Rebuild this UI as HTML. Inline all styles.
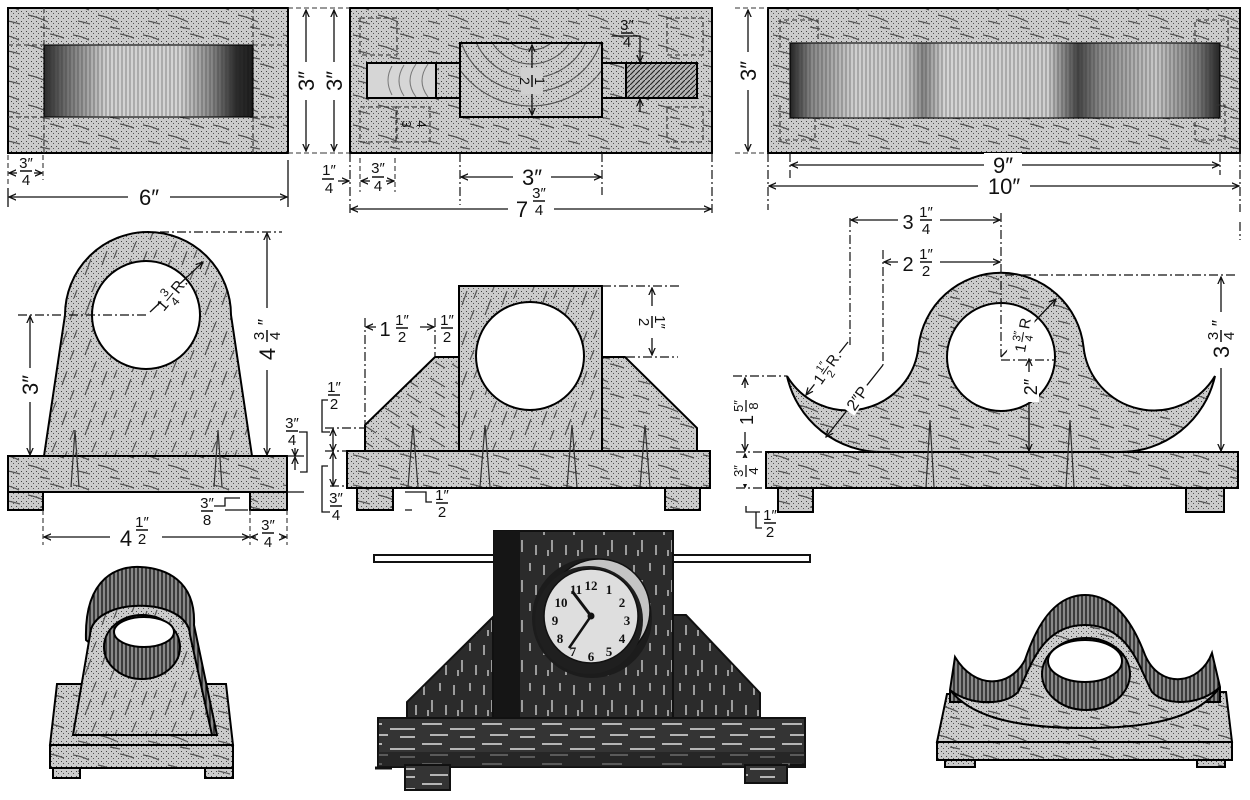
<!DOCTYPE html>
<html><head><meta charset="utf-8"><style>
html,body{margin:0;padding:0;background:#fff}
svg{display:block}
text{font-family:"Liberation Sans",sans-serif;fill:#111}
.d{stroke:#111;stroke-width:1.3;fill:none}
.dd{stroke:#111;stroke-width:1.2;fill:none;stroke-dasharray:9 3 2 3}
.hd{stroke:#333;stroke-width:1.1;fill:none;stroke-dasharray:5 3}
.o{stroke:#000;stroke-width:2}
.w{fill:#fff}
</style></head><body>
<svg width="1250" height="800" viewBox="0 0 1250 800" xmlns="http://www.w3.org/2000/svg">
<defs>
<pattern id="stip" width="5" height="5" patternUnits="userSpaceOnUse">
<rect width="5" height="5" fill="#cbcbcb"/><rect x="1" y="1" width="1" height="1" fill="#444"/><rect x="3" y="3" width="1" height="1" fill="#555"/>
</pattern>
<pattern id="gH" width="70" height="30" patternUnits="userSpaceOnUse">
<rect width="70" height="30" fill="url(#stip)"/>
<path d="M3 5 q8 1 16 5 M28 15 q10 2 20 7 M50 4 q6 1 14 4 M8 21 q5 1 12 3 M40 27 l10 2" stroke="#555" stroke-width="1.3" fill="none"/>
</pattern>
<pattern id="gD" width="40" height="40" patternUnits="userSpaceOnUse">
<rect width="40" height="40" fill="url(#stip)"/>
<path d="M5 35 l6 -16 M22 25 l5 -14 M30 40 l4 -10 M12 12 l4 -10 M34 18 l3 -8" stroke="#555" stroke-width="1.2" fill="none"/>
</pattern>
<pattern id="gB" width="45" height="30" patternUnits="userSpaceOnUse">
<rect width="45" height="30" fill="url(#stip)"/>
<path d="M2 4 l14 9 M25 18 l15 9 M30 2 l10 6 M5 22 l8 5" stroke="#555" stroke-width="1.2" fill="none"/>
</pattern>
<pattern id="dV" width="30" height="40" patternUnits="userSpaceOnUse">
<rect width="30" height="40" fill="#2b2b2b"/>
<path d="M4 5 v10 M12 20 v12 M20 3 v8 M26 25 v10 M8 30 v6" stroke="#d8d8d8" stroke-width="1.3"/>
</pattern>
<pattern id="dH" width="60" height="20" patternUnits="userSpaceOnUse">
<rect width="60" height="20" fill="#343434"/>
<path d="M2 4 h20 M30 9 h25 M10 15 h18 M40 17 h15" stroke="#e0e0e0" stroke-width="1.6"/>
</pattern>
<pattern id="vl" width="4" height="10" patternUnits="userSpaceOnUse">
<line x1="2" y1="0" x2="2" y2="10" stroke="#333" stroke-width="0.9"/>
</pattern>
<pattern id="vlD" width="4" height="10" patternUnits="userSpaceOnUse">
<rect width="4" height="10" fill="#8a8a8a"/><line x1="2" y1="0" x2="2" y2="10" stroke="#111" stroke-width="1.3"/>
</pattern>
<pattern id="hatch" width="5" height="5" patternUnits="userSpaceOnUse">
<rect width="5" height="5" fill="#b5b5b5"/><path d="M0 5 L5 0" stroke="#222" stroke-width="1.1"/>
</pattern>
<linearGradient id="gL" x1="0" x2="1" y1="0" y2="0">
<stop offset="0" stop-color="#2a2a2a"/><stop offset=".12" stop-color="#777"/><stop offset=".3" stop-color="#d2d2d2"/><stop offset=".65" stop-color="#d5d5d5"/><stop offset=".8" stop-color="#888"/><stop offset=".92" stop-color="#2a2a2a"/><stop offset="1" stop-color="#1a1a1a"/>
</linearGradient>
<linearGradient id="gR" x1="0" x2="1" y1="0" y2="0">
<stop offset="0" stop-color="#222"/><stop offset=".05" stop-color="#888"/><stop offset=".15" stop-color="#d0d0d0"/><stop offset=".27" stop-color="#ccc"/><stop offset=".31" stop-color="#888"/><stop offset=".36" stop-color="#d5d5d5"/><stop offset=".6" stop-color="#d0d0d0"/><stop offset=".67" stop-color="#444"/><stop offset=".72" stop-color="#888"/><stop offset=".85" stop-color="#c8c8c8"/><stop offset=".95" stop-color="#777"/><stop offset="1" stop-color="#222"/>
</linearGradient>
<marker id="a" viewBox="0 0 10 10" refX="9" refY="5" markerWidth="8" markerHeight="8" orient="auto-start-reverse" markerUnits="userSpaceOnUse">
<path d="M0 1 L9 5 L0 9" fill="none" stroke="#111" stroke-width="1.6"/>
</marker>
</defs>
<rect width="1250" height="800" fill="#fff"/>

<!-- ============ TOP LEFT ============ -->
<rect x="8" y="8" width="280" height="145" fill="url(#gH)" class="o"/>
<rect x="44" y="45" width="209" height="72" fill="url(#gL)"/>
<rect x="44" y="45" width="209" height="72" fill="url(#vl)" opacity=".55" stroke="#000" stroke-width="2"/>
<path class="hd" d="M8 45 H44 M253 45 H288 M8 117 H44 M253 117 H288 M44 8 V45 M253 8 V45 M44 117 V153 M253 117 V153"/>
<path class="hd" d="M288 8 H322 M288 153 H322"/>
<line class="d" x1="306" y1="10" x2="306" y2="151" marker-start="url(#a)" marker-end="url(#a)"/>
<rect x="296" y="62" width="20" height="38" class="w"/>
<text transform="translate(314,81) rotate(-90)" font-size="22" text-anchor="middle">3″</text>
<path class="hd" d="M8 155 V185 M43 155 V180"/>
<line class="d" x1="17" y1="173" x2="9" y2="173" marker-end="url(#a)"/>
<line class="d" x1="34" y1="173" x2="42" y2="173" marker-end="url(#a)"/>
<text x="26" y="168" font-size="15" text-anchor="middle">3″</text><line x1="20" y1="171" x2="32" y2="171" stroke="#111" stroke-width="1.5"/><text x="26" y="185" font-size="15" text-anchor="middle">4</text>
<path class="d" d="M8 188 V207 M288 160 V207"/>
<line class="d" x1="9" y1="197" x2="287" y2="197" marker-start="url(#a)" marker-end="url(#a)"/>
<rect x="128" y="185" width="42" height="24" class="w"/>
<text x="149" y="205" font-size="22" text-anchor="middle">6″</text>

<!-- ============ TOP MIDDLE ============ -->
<rect x="350" y="8" width="362" height="145" fill="url(#gH)" class="o"/>
<g class="hd">
<rect x="360" y="18" width="37" height="37"/><rect x="360" y="107" width="37" height="35"/><rect x="396" y="107" width="34" height="35"/>
<rect x="667" y="18" width="36" height="37"/><rect x="667" y="107" width="36" height="35"/>
</g>
<text transform="translate(402,124) rotate(90)" font-size="13" text-anchor="middle">3</text>
<text transform="translate(417,124) rotate(90)" font-size="13" text-anchor="middle">4</text>
<rect x="367" y="63" width="69" height="35" fill="#d6d6d6" class="o"/>
<path d="M392 66 q-8 14 0 29 M404 65 q-10 16 0 31 M416 64 q-12 17 0 33 M428 64 q-12 17 0 33" stroke="#777" stroke-width="1" fill="none"/>
<rect x="436" y="63" width="24" height="35" fill="url(#gH)" class="o"/>
<rect x="602" y="63" width="24" height="35" fill="url(#gH)" class="o"/>
<rect x="626" y="63" width="71" height="35" fill="url(#hatch)" class="o"/>
<rect x="460" y="43" width="142" height="74" fill="url(#stip)" class="o"/>
<clipPath id="cb"><rect x="461" y="44" width="140" height="72"/></clipPath>
<g clip-path="url(#cb)" stroke="#555" stroke-width="1.1" fill="none">
<circle cx="531" cy="18" r="32"/><circle cx="531" cy="18" r="46"/><circle cx="531" cy="18" r="60"/><circle cx="531" cy="18" r="74"/><circle cx="531" cy="18" r="88"/>
</g>
<line class="d" x1="532" y1="45" x2="532" y2="115" marker-start="url(#a)" marker-end="url(#a)"/>
<rect x="521" y="68" width="22" height="26" fill="#d0d0d0"/>
<g transform="translate(532,81) rotate(90)">
<text x="0" y="-3" font-size="14" text-anchor="middle">1</text><line x1="-6" y1="0" x2="6" y2="0" stroke="#111" stroke-width="1.5"/><text x="0" y="12" font-size="14" text-anchor="middle">2</text>
</g>
<text x="627" y="30" font-size="15" text-anchor="middle">3″</text><line x1="621" y1="33" x2="633" y2="33" stroke="#111" stroke-width="1.5"/><text x="627" y="47" font-size="15" text-anchor="middle">4</text>
<path class="d" d="M612 36 H640 V52"/><line class="d" x1="640" y1="50" x2="640" y2="62" marker-end="url(#a)"/>
<line class="d" x1="640" y1="112" x2="640" y2="99" marker-end="url(#a)"/>
<path class="dd" d="M350 153 V215 M712 153 V215 M460 153 V205 M602 153 V195"/>
<path class="hd" d="M360 158 V192 M395 158 V192"/>
<text x="329" y="175" font-size="15" text-anchor="middle">1″</text><line x1="322" y1="179" x2="334" y2="179" stroke="#111" stroke-width="1.5"/><text x="329" y="193" font-size="15" text-anchor="middle">4</text>
<line class="d" x1="338" y1="181" x2="349" y2="181" marker-end="url(#a)"/>
<text x="378" y="173" font-size="15" text-anchor="middle">3″</text><line x1="372" y1="177" x2="384" y2="177" stroke="#111" stroke-width="1.5"/><text x="378" y="191" font-size="15" text-anchor="middle">4</text>
<line class="d" x1="370" y1="181" x2="361" y2="181" marker-end="url(#a)"/>
<line class="d" x1="386" y1="181" x2="394" y2="181" marker-end="url(#a)"/>
<line class="d" x1="461" y1="177" x2="601" y2="177" marker-start="url(#a)" marker-end="url(#a)"/>
<rect x="513" y="165" width="38" height="24" class="w"/>
<text x="532" y="185" font-size="22" text-anchor="middle">3″</text>
<line class="d" x1="351" y1="209" x2="711" y2="209" marker-start="url(#a)" marker-end="url(#a)"/>
<rect x="508" y="188" width="46" height="32" class="w"/>
<text x="522" y="217" font-size="22" text-anchor="middle">7</text>
<text x="539" y="198" font-size="15" text-anchor="middle">3″</text><line x1="533" y1="201" x2="545" y2="201" stroke="#111" stroke-width="1.5"/><text x="539" y="215" font-size="15" text-anchor="middle">4</text>
<path class="hd" d="M322 8 H350 M322 153 H350"/>
<line class="d" x1="334" y1="10" x2="334" y2="151" marker-start="url(#a)" marker-end="url(#a)"/>
<rect x="324" y="62" width="20" height="38" class="w"/>
<text transform="translate(342,81) rotate(-90)" font-size="22" text-anchor="middle">3″</text>

<!-- ============ TOP RIGHT ============ -->
<rect x="768" y="8" width="472" height="145" fill="url(#gH)" class="o"/>
<rect x="790" y="43" width="430" height="75" fill="url(#gR)"/>
<rect x="790" y="43" width="430" height="75" fill="url(#vl)" opacity=".55" stroke="#000" stroke-width="2"/>
<path class="hd" d="M780 48 V20 H818 V43 M780 105 V140 H815 V118 M1195 43 V20 H1228 V48 M1215 105 H1225 V140 H1195 V118"/>
<path class="hd" d="M735 8 H768 M735 153 H768"/>
<line class="d" x1="748" y1="10" x2="748" y2="151" marker-start="url(#a)" marker-end="url(#a)"/>
<rect x="738" y="52" width="20" height="38" class="w"/>
<text transform="translate(756,71) rotate(-90)" font-size="22" text-anchor="middle">3″</text>
<path class="dd" d="M790 153 V178 M1220 153 V175 M768 153 V210 M1240 153 V212 M1240 222 V240"/>
<line class="d" x1="791" y1="165" x2="1219" y2="165" marker-start="url(#a)" marker-end="url(#a)"/>
<rect x="984" y="153" width="38" height="24" class="w"/>
<text x="1003" y="173" font-size="22" text-anchor="middle">9″</text>
<line class="d" x1="769" y1="186" x2="1239" y2="186" marker-start="url(#a)" marker-end="url(#a)"/>
<rect x="978" y="174" width="52" height="24" class="w"/>
<text x="1004" y="194" font-size="22" text-anchor="middle">10″</text>

<!-- ============ MIDDLE LEFT ============ -->
<path d="M44 456 L65 315 A83 83 0 0 1 231 315 L252 456 Z" fill="url(#gD)" class="o"/>
<circle cx="146" cy="315" r="54" fill="#fff" class="o"/>
<rect x="8" y="456" width="279" height="36" fill="url(#gH)" class="o"/>
<rect x="8" y="492" width="35" height="18" fill="url(#gH)" class="o"/>
<rect x="250" y="492" width="37" height="18" fill="url(#gH)" class="o"/>
<path d="M71 487 L75 430 L79 487 M214 487 L218 430 L222 487" stroke="#333" stroke-width="1.2" fill="none"/>
<path class="dd" d="M18 315 H146 M160 232 H282"/>
<line class="d" x1="30" y1="316" x2="30" y2="455" marker-start="url(#a)" marker-end="url(#a)"/>
<rect x="20" y="368" width="22" height="34" class="w"/>
<text transform="translate(38,385) rotate(-90)" font-size="22" text-anchor="middle">3″</text>
<line class="d" x1="267" y1="233" x2="267" y2="455" marker-start="url(#a)" marker-end="url(#a)"/>
<rect x="256" y="308" width="24" height="62" class="w"/>
<g transform="translate(267,338) rotate(-90)">
<text x="-16" y="8" font-size="22" text-anchor="middle">4</text>
<text x="2" y="-3" font-size="15" text-anchor="middle">3</text><line x1="-4" y1="0" x2="8" y2="0" stroke="#111" stroke-width="1.5"/><text x="2" y="13" font-size="15" text-anchor="middle">4</text>
<text x="16" y="4" font-size="18" text-anchor="middle">″</text>
</g>
<line class="d" x1="150" y1="312" x2="203" y2="262" marker-end="url(#a)"/>
<rect x="158" y="280" width="26" height="26" fill="#fff" transform="rotate(-45 171 293)"/>
<g transform="translate(171,294) rotate(-50)">
<text x="-14" y="6" font-size="16" text-anchor="middle">1</text>
<text x="-3" y="-2" font-size="12" text-anchor="middle">3</text><line x1="-8" y1="1" x2="2" y2="1" stroke="#111"/><text x="-3" y="12" font-size="12" text-anchor="middle">4</text>
<text x="12" y="6" font-size="16" text-anchor="middle">R.</text>
</g>
<text x="292" y="428" font-size="15" text-anchor="middle">3″</text><line x1="286" y1="431" x2="298" y2="431" stroke="#111" stroke-width="1.5"/><text x="292" y="445" font-size="15" text-anchor="middle">4</text>
<path class="d" d="M299 432 H307 V472 H300"/>
<path class="d" d="M287 456 H304 M287 492 H304"/>
<line class="d" x1="295" y1="448" x2="295" y2="456" marker-end="url(#a)"/>
<line class="d" x1="295" y1="470" x2="295" y2="457" marker-end="url(#a)"/>
<text x="207" y="508" font-size="15" text-anchor="middle">3″</text><line x1="201" y1="511" x2="213" y2="511" stroke="#111" stroke-width="1.5"/><text x="207" y="525" font-size="15" text-anchor="middle">8</text>
<path class="d" d="M214 506 H225 V498 H240 M225 510 H248"/>
<path class="hd" d="M43 510 V545 M250 510 V545 M287 510 V545"/>
<line class="d" x1="44" y1="537" x2="249" y2="537" marker-start="url(#a)" marker-end="url(#a)"/>
<rect x="110" y="520" width="52" height="28" class="w"/>
<text x="126" y="546" font-size="22" text-anchor="middle">4</text>
<text x="142" y="527" font-size="15" text-anchor="middle">1″</text><line x1="136" y1="530" x2="148" y2="530" stroke="#111" stroke-width="1.5"/><text x="142" y="544" font-size="15" text-anchor="middle">2</text>
<line class="d" x1="256" y1="537" x2="251" y2="537" marker-end="url(#a)"/>
<line class="d" x1="281" y1="537" x2="286" y2="537" marker-end="url(#a)"/>
<text x="268" y="530" font-size="15" text-anchor="middle">3″</text><line x1="262" y1="533" x2="274" y2="533" stroke="#111" stroke-width="1.5"/><text x="268" y="547" font-size="15" text-anchor="middle">4</text>

<!-- ============ MIDDLE CENTER ============ -->
<path d="M365 452 L365 425 L435 357 L459 357 L459 452 Z" fill="url(#gB)" class="o"/>
<path d="M602 357 L625 357 L697 428 L697 452 L602 452 Z" fill="url(#gH)" class="o"/>
<rect x="459" y="286" width="143" height="166" fill="url(#gD)" class="o"/>
<circle cx="530" cy="356" r="54" fill="#fff" class="o"/>
<rect x="347" y="451" width="363" height="37" fill="url(#gH)" class="o"/>
<rect x="357" y="488" width="36" height="22" fill="url(#gH)" class="o"/>
<rect x="665" y="488" width="35" height="22" fill="url(#gH)" class="o"/>
<path d="M408 487 L413 425 L418 487 M480 487 L485 425 L490 487 M567 487 L572 425 L577 487 M640 487 L645 425 L650 487" stroke="#333" stroke-width="1.2" fill="none"/>
<path class="dd" d="M365 318 V425 M435 318 V357"/>
<line class="d" x1="366" y1="327" x2="434" y2="327" marker-start="url(#a)" marker-end="url(#a)"/>
<rect x="376" y="312" width="44" height="32" class="w"/>
<text x="385" y="336" font-size="20" text-anchor="middle">1</text>
<text x="402" y="325" font-size="15" text-anchor="middle">1″</text><line x1="396" y1="328" x2="408" y2="328" stroke="#111" stroke-width="1.5"/><text x="402" y="342" font-size="15" text-anchor="middle">2</text>
<text x="447" y="325" font-size="15" text-anchor="middle">1″</text><line x1="441" y1="328" x2="453" y2="328" stroke="#111" stroke-width="1.5"/><text x="447" y="342" font-size="15" text-anchor="middle">2</text>
<path class="dd" d="M602 286 H682 M626 357 H678"/>
<line class="d" x1="652" y1="288" x2="652" y2="355" marker-start="url(#a)" marker-end="url(#a)"/>
<rect x="640" y="306" width="24" height="32" class="w"/>
<g transform="translate(652,322) rotate(90)">
<text x="0" y="-3" font-size="15" text-anchor="middle">1″</text><line x1="-6" y1="0" x2="6" y2="0" stroke="#111" stroke-width="1.5"/><text x="0" y="13" font-size="15" text-anchor="middle">2</text>
</g>
<text x="334" y="392" font-size="15" text-anchor="middle">1″</text><line x1="328" y1="395" x2="340" y2="395" stroke="#111" stroke-width="1.5"/><text x="334" y="409" font-size="15" text-anchor="middle">2</text>
<path class="d" d="M328 400 H322 V432 H330"/>
<path class="dd" d="M325 428 H365 M325 451 H347 M330 486 H347"/>
<line class="d" x1="333" y1="440" x2="333" y2="429" marker-end="url(#a)"/>
<line class="d" x1="333" y1="440" x2="333" y2="451" marker-end="url(#a)"/>
<line class="d" x1="333" y1="452" x2="333" y2="486" marker-start="url(#a)" marker-end="url(#a)"/>
<path class="d" d="M328 466 H322 V512 H330"/>
<text x="336" y="503" font-size="15" text-anchor="middle">3″</text><line x1="330" y1="506" x2="342" y2="506" stroke="#111" stroke-width="1.5"/><text x="336" y="520" font-size="15" text-anchor="middle">4</text>
<text x="442" y="500" font-size="15" text-anchor="middle">1″</text><line x1="436" y1="503" x2="448" y2="503" stroke="#111" stroke-width="1.5"/><text x="442" y="517" font-size="15" text-anchor="middle">2</text>
<path class="d" d="M405 492 H426 V502 H432 M405 510 H412"/>

<!-- ============ MIDDLE RIGHT ============ -->
<path d="M787 376 A71 71 0 0 0 918.5 346.7 A83 83 0 0 1 1083.5 346.7 A71 71 0 0 0 1215 376 A97 97 0 0 1 1119 452 L883 452 A97 97 0 0 1 787 376 Z" fill="url(#gH)" class="o"/>
<circle cx="1001" cy="357" r="54" fill="#fff" class="o"/>
<rect x="766" y="452" width="472" height="36" fill="url(#gH)" class="o"/>
<rect x="778" y="488" width="35" height="24" fill="url(#gH)" class="o"/>
<rect x="1186" y="488" width="38" height="24" fill="url(#gH)" class="o"/>
<path d="M926 487 L930 420 L934 487 M1066 487 L1070 420 L1074 487" stroke="#333" stroke-width="1.2" fill="none"/>
<path class="dd" d="M850 218 V345 M1001 213 V357 M883 250 V365 M1005 275 H1238"/>
<line class="d" x1="851" y1="220" x2="1000" y2="220" marker-start="url(#a)" marker-end="url(#a)"/>
<rect x="898" y="203" width="42" height="32" class="w"/>
<text x="908" y="229" font-size="20" text-anchor="middle">3</text>
<text x="926" y="217" font-size="15" text-anchor="middle">1″</text><line x1="920" y1="220" x2="932" y2="220" stroke="#111" stroke-width="1.5"/><text x="926" y="234" font-size="15" text-anchor="middle">4</text>
<line class="d" x1="884" y1="262" x2="1000" y2="262" marker-start="url(#a)" marker-end="url(#a)"/>
<rect x="898" y="246" width="42" height="32" class="w"/>
<text x="908" y="271" font-size="20" text-anchor="middle">2</text>
<text x="926" y="259" font-size="15" text-anchor="middle">1″</text><line x1="920" y1="262" x2="932" y2="262" stroke="#111" stroke-width="1.5"/><text x="926" y="276" font-size="15" text-anchor="middle">2</text>
<line class="d" x1="848" y1="342" x2="806" y2="395" marker-end="url(#a)"/>
<g transform="translate(826,368) rotate(-55)">
<rect x="-20" y="-12" width="40" height="22" class="w"/>
<text x="-13" y="6" font-size="15" text-anchor="middle">1</text>
<text x="-2" y="-1" font-size="11" text-anchor="middle">1″</text><line x1="-7" y1="1" x2="3" y2="1" stroke="#111"/><text x="-2" y="11" font-size="11" text-anchor="middle">2</text>
<text x="12" y="6" font-size="15" text-anchor="middle">R.</text>
</g>
<line class="d" x1="883" y1="365" x2="826" y2="437" marker-end="url(#a)"/>
<g transform="translate(857,398) rotate(-55)">
<rect x="-16" y="-12" width="32" height="20" class="w"/>
<text x="0" y="6" font-size="16" text-anchor="middle">2″P</text>
</g>
<line class="d" x1="1001" y1="357" x2="1056" y2="299" marker-end="url(#a)"/>
<g transform="translate(1022,335) rotate(-80)">
<rect x="-20" y="-12" width="40" height="22" fill="#fff"/>
<text x="-13" y="6" font-size="15" text-anchor="middle">1</text>
<text x="-2" y="-1" font-size="11" text-anchor="middle">3″</text><line x1="-7" y1="1" x2="3" y2="1" stroke="#111"/><text x="-2" y="11" font-size="11" text-anchor="middle">4</text>
<text x="12" y="6" font-size="15" text-anchor="middle">R</text>
</g>
<path class="dd" d="M1001 360 H1055"/>
<line class="d" x1="1029" y1="359" x2="1029" y2="451" marker-start="url(#a)" marker-end="url(#a)"/>
<rect x="1019" y="372" width="20" height="30" class="w"/>
<text transform="translate(1037,387) rotate(-90)" font-size="18" text-anchor="middle">2″</text>
<line class="d" x1="1221" y1="277" x2="1221" y2="451" marker-start="url(#a)" marker-end="url(#a)"/>
<rect x="1209" y="312" width="24" height="56" class="w"/>
<g transform="translate(1221,340) rotate(-90)">
<text x="-12" y="8" font-size="22" text-anchor="middle">3</text>
<text x="4" y="-3" font-size="15" text-anchor="middle">3</text><line x1="-2" y1="0" x2="10" y2="0" stroke="#111" stroke-width="1.5"/><text x="4" y="13" font-size="15" text-anchor="middle">4</text>
<text x="17" y="4" font-size="18" text-anchor="middle">″</text>
</g>
<path class="dd" d="M733 376 H787 M736 452 H766 M736 488 H766"/>
<line class="d" x1="745" y1="378" x2="745" y2="451" marker-start="url(#a)" marker-end="url(#a)"/>
<rect x="733" y="388" width="24" height="44" class="w"/>
<g transform="translate(745,410) rotate(-90)">
<text x="-10" y="8" font-size="18" text-anchor="middle">1</text>
<text x="4" y="-2" font-size="13" text-anchor="middle">5″</text><line x1="-2" y1="1" x2="10" y2="1" stroke="#111" stroke-width="1.3"/><text x="4" y="13" font-size="13" text-anchor="middle">8</text>
</g>
<line class="d" x1="745" y1="454" x2="745" y2="487" marker-start="url(#a)" marker-end="url(#a)"/>
<rect x="733" y="458" width="24" height="26" class="w"/>
<g transform="translate(745,471) rotate(-90)">
<text x="0" y="-2" font-size="13" text-anchor="middle">3″</text><line x1="-6" y1="1" x2="6" y2="1" stroke="#111" stroke-width="1.3"/><text x="0" y="13" font-size="13" text-anchor="middle">4</text>
</g>
<path class="d" d="M746 506 V512 H760 M756 512 V528 H762"/>
<text x="770" y="520" font-size="15" text-anchor="middle">1″</text><line x1="764" y1="523" x2="776" y2="523" stroke="#111" stroke-width="1.5"/><text x="770" y="537" font-size="15" text-anchor="middle">2</text>

<!-- ============ BOTTOM LEFT (perspective) ============ -->
<polygon points="57,684 226,684 233,745 50,745" fill="url(#gH)" class="o"/>
<rect x="50" y="745" width="183" height="23" fill="url(#gH)" class="o"/>
<rect x="53" y="768" width="27" height="10" fill="url(#gH)" class="o"/>
<rect x="205" y="768" width="28" height="10" fill="url(#gH)" class="o"/>
<path d="M86 640 C84 575,120 566,140 567 C165 568,196 580,194 625 L217 735 L205 735 Z" fill="url(#vlD)" class="o"/>
<path d="M73 735 L90 635 C92 596,188 596,190 635 L212 735 Z" fill="url(#gD)" class="o"/>
<ellipse cx="142" cy="647" rx="38" ry="32" fill="url(#vlD)" class="o"/>
<ellipse cx="144" cy="632" rx="30" ry="15" fill="#fff" class="o"/>

<!-- ============ BOTTOM CENTER (photo) ============ -->
<rect x="374" y="555" width="436" height="7" fill="#fff" stroke="#111" stroke-width="2"/>
<path d="M493 617 L407 702 L407 720 L493 720 Z" fill="url(#dV)" stroke="#111" stroke-width="2"/>
<path d="M673 615 L686 615 L760 693 L760 720 L673 720 Z" fill="url(#dV)" stroke="#111" stroke-width="2"/>
<rect x="494" y="531" width="179" height="189" fill="url(#dV)" stroke="#111" stroke-width="2"/>
<rect x="494" y="531" width="26" height="189" fill="#151515"/>
<circle cx="592" cy="618" r="60" fill="#1c1c1c"/>
<circle cx="599" cy="610" r="51" fill="#c4c4c4" stroke="#111" stroke-width="1.5"/>
<circle cx="589" cy="620" r="54" fill="#1f1f1f"/>
<circle cx="591" cy="616" r="47" fill="#dedede" stroke="#111" stroke-width="1.5"/>
<g font-size="13" font-weight="bold" text-anchor="middle" fill="#111" style="font-family:'Liberation Serif',serif">
<text x="591" y="590" style="font-family:'Liberation Serif',serif">12</text>
<text x="609" y="594" style="font-family:'Liberation Serif',serif">1</text>
<text x="622" y="607" style="font-family:'Liberation Serif',serif">2</text>
<text x="627" y="625" style="font-family:'Liberation Serif',serif">3</text>
<text x="622" y="643" style="font-family:'Liberation Serif',serif">4</text>
<text x="609" y="656" style="font-family:'Liberation Serif',serif">5</text>
<text x="591" y="661" style="font-family:'Liberation Serif',serif">6</text>
<text x="573" y="656" style="font-family:'Liberation Serif',serif">7</text>
<text x="560" y="643" style="font-family:'Liberation Serif',serif">8</text>
<text x="555" y="625" style="font-family:'Liberation Serif',serif">9</text>
<text x="561" y="607" style="font-family:'Liberation Serif',serif">10</text>
<text x="576" y="594" style="font-family:'Liberation Serif',serif">11</text>
</g>
<path d="M591 616 L572 591" stroke="#111" stroke-width="3"/>
<path d="M591 616 L569 648" stroke="#111" stroke-width="2.5"/>
<circle cx="591" cy="616" r="3.5" fill="#111"/>
<rect x="378" y="718" width="427" height="49" fill="url(#dH)" stroke="#111" stroke-width="2"/>
<rect x="378" y="752" width="427" height="15" fill="#1e1e1e" opacity=".6"/>
<rect x="405" y="765" width="45" height="25" fill="url(#dH)" stroke="#111" stroke-width="2"/>
<rect x="745" y="765" width="42" height="18" fill="url(#dH)" stroke="#111" stroke-width="2"/>
<path d="M375 768 H392 M790 765 H806" stroke="#111" stroke-width="3"/>

<!-- ============ BOTTOM RIGHT (perspective) ============ -->
<polygon points="947,694 1226,692 1232,742 937,742" fill="url(#gH)" class="o"/>
<rect x="937" y="742" width="295" height="18" fill="url(#gH)" class="o"/>
<rect x="945" y="760" width="30" height="7" fill="url(#gH)" class="o"/>
<rect x="1197" y="760" width="28" height="7" fill="url(#gH)" class="o"/>
<path d="M950 690 L955 657 C975 690,1010 688,1025 660 C1040 615,1060 595,1085 595 C1110 595,1130 615,1145 655 C1160 690,1200 685,1212 653 L1220 687 L1220 702 L950 702 Z" fill="url(#vlD)" class="o"/>
<path d="M950 690 C970 706,1005 706,1018 692 C1030 670,1040 625,1085 625 C1130 625,1140 670,1152 692 C1165 706,1200 706,1220 687 C1200 715,1160 728,1085 728 C1010 728,970 715,950 690 Z" fill="url(#gH)" class="o"/>
<ellipse cx="1086" cy="674" rx="44" ry="36" fill="url(#vlD)" class="o"/>
<ellipse cx="1085" cy="661" rx="37" ry="21" fill="#fff" class="o"/>
</svg>
</body></html>
